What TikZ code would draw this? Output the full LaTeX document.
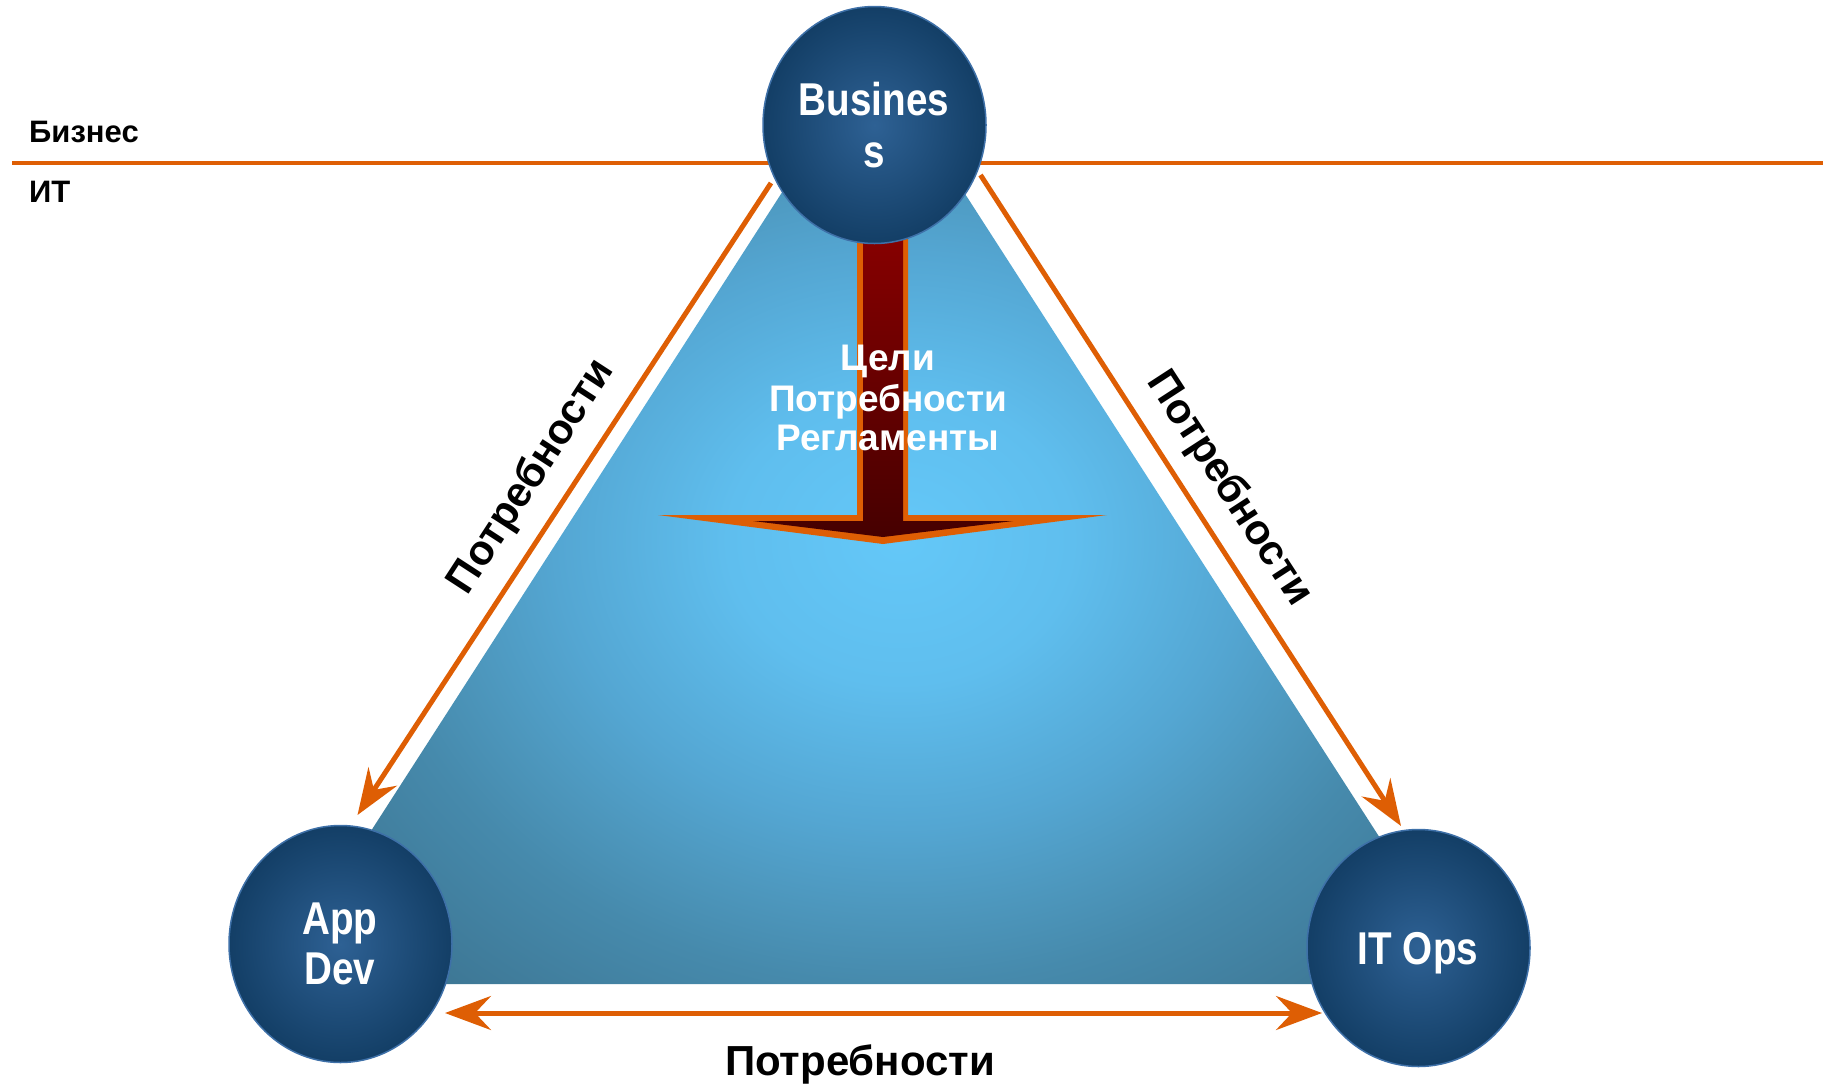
\documentclass[tikz,border=0pt]{standalone}
\usepackage{fontspec}
\setmainfont{Liberation Sans}
\newfontfamily\narrowfont[FakeStretch=0.84]{Liberation Sans}
\usetikzlibrary{arrows.meta,shapes.geometric}

\definecolor{orng}{RGB}{222,94,4}
\definecolor{circedge}{RGB}{62,112,168}
\definecolor{redtop}{RGB}{135,0,0}
\definecolor{redbot}{RGB}{70,0,0}

\pgfdeclareradialshading{trishade}{\pgfpoint{0bp}{0bp}}{rgb(0bp)=(0.392,0.784,0.973); rgb(6bp)=(0.373,0.745,0.933); rgb(12bp)=(0.329,0.651,0.824); rgb(15.5bp)=(0.302,0.592,0.741); rgb(18.5bp)=(0.275,0.541,0.675); rgb(24bp)=(0.243,0.471,0.588); rgb(25bp)=(0.239,0.459,0.576); rgb(50bp)=(0.239,0.459,0.576)}
\pgfdeclareradialshading{circshade}{\pgfpoint{0bp}{0bp}}{rgb(0bp)=(0.18,0.38,0.58); rgb(25bp)=(0.075,0.245,0.40); rgb(50bp)=(0.075,0.245,0.40)}

\tikzset{
  circ/.style={ellipse, minimum width=223pt, minimum height=237pt, inner sep=0pt,
    shade, shading=circshade, draw=circedge, line width=1.5pt},
  circtext/.style={text=white, font=\narrowfont\bfseries\fontsize{46}{52}\selectfont, inner sep=0pt, anchor=base},
  needarrow/.style={draw=orng, line width=5pt,
    -{Stealth[length=46pt,width=34pt,inset=16pt]}},
  needboth/.style={draw=orng, line width=5pt,
    {Stealth[length=46pt,width=34pt,inset=16pt]}-{Stealth[length=46pt,width=34pt,inset=16pt]}},
  needlabel/.style={font=\bfseries\fontsize{42}{48}\selectfont, text=black, inner sep=0pt},
  goaltext/.style={font=\bfseries\fontsize{37}{40}\selectfont, text=white, inner sep=0pt, anchor=base},
  zonetext/.style={font=\bfseries\fontsize{31}{36}\selectfont, text=black, inner sep=0pt, anchor=base west}
}

\begin{document}
\begin{tikzpicture}[x=1pt,y=-1pt]
\useasboundingbox[fill=white] (0,0) rectangle (1826,1085);

% separator line
\coordinate (lineL) at (12,163);
\coordinate (lineR) at (1823,163);
\draw[orng, line width=3.5pt] (lineL) -- (lineR);
\node[zonetext] (biz) at (29,142) {Бизнес};
\node[zonetext] (it) at (29,202) {ИТ};

% triangle
\begin{scope}
\clip (873,51) -- (272.5,984) -- (1474,984) -- cycle;
\shade[shading=trishade] (900,540) ellipse [x radius=720, y radius=600];
\end{scope}

% down arrow
\fill[orng] (857,235) -- (908,235) -- (908,515) -- (1107,515) -- (883,544) -- (658,515) -- (857,515) -- cycle;
\shade[top color=redtop, bottom color=redbot] (863,235) -- (903,235) -- (903,521) -- (1013,521) -- (883,537) -- (753,521) -- (863,521) -- cycle;

% goal text
\node[goaltext] (g1) at (888,370) {Цели};
\node[goaltext] (g2) at (888,411) {Потребности};
\node[goaltext] (g3) at (888,450) {Регламенты};

% circles
\node[circ] (bus) at (874.5,125) {};
\node[circ] (app) at (340.5,944) {};
\node[circ] (ops) at (1418.5,948) {};

\node[circtext] (bus1) at (874,115) {Busines};
\node[circtext] (bus2) at (874,167) {s};
\node[circtext] (app1) at (340,934) {App};
\node[circtext] (app2) at (340,984) {Dev};
\node[circtext] (ops1) at (1418,964) {IT Ops};

% need arrows
\coordinate (lA) at (771,183);
\coordinate (lB) at (357.5,815);
\coordinate (rA) at (980.5,175);
\coordinate (rB) at (1401,826);
\coordinate (bA) at (445,1013);
\coordinate (bB) at (1322,1013);
\draw[needarrow] (lA) -- (lB);
\draw[needarrow] (rA) -- (rB);
\draw[needboth] (bA) -- (bB);

\node[needlabel, rotate=57] (nl) at (532,477) {Потребности};
\node[needlabel, rotate=-57] (nr) at (1229,489) {Потребности};
\node[needlabel, anchor=base] (nb) at (860,1075) {Потребности};
\end{tikzpicture}
\end{document}
